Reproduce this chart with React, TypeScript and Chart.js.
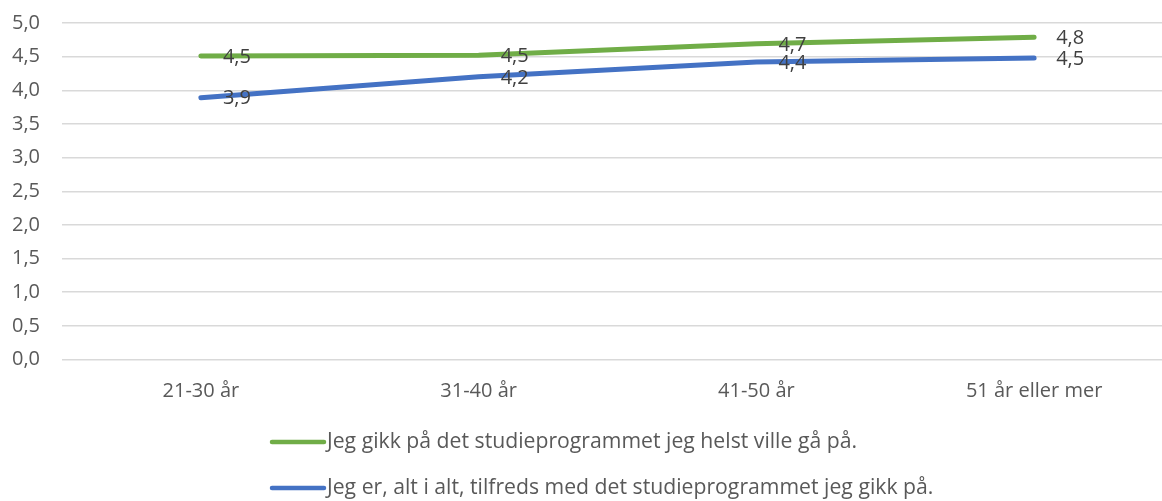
import React, { useEffect, useRef } from "react";
import { Chart, registerables } from "chart.js";

Chart.register(...registerables);

const categories = ["21-30 år", "31-40 år", "41-50 år", "51 år eller mer"];
const seriesNames = [
  "Jeg gikk på det studieprogrammet jeg helst ville gå på.",
  "Jeg er, alt i alt, tilfreds med det studieprogrammet jeg gikk på.",
];
const greenValues = [4.51, 4.52, 4.69, 4.79];
const blueValues = [3.89, 4.2, 4.42, 4.48];
const yTicks = [0, 0.5, 1, 1.5, 2, 2.5, 3, 3.5, 4, 4.5, 5];

const FONT = "'Open Sans', 'Noto Sans', sans-serif";
const fmt = (v: number) => v.toFixed(1).replace(".", ",");

const dataLabelPlugin = {
  id: "dataLabels",
  afterDatasetsDraw(chart: any) {
    const ctx = chart.ctx;
    ctx.save();
    ctx.font = `20px ${FONT}`;
    ctx.fillStyle = "#404040";
    ctx.textAlign = "left";
    ctx.textBaseline = "middle";
    chart.data.datasets.forEach((ds: any, i: number) => {
      const meta = chart.getDatasetMeta(i);
      meta.data.forEach((pt: any, j: number) => {
        ctx.fillText(fmt(ds.data[j]), pt.x + 22, pt.y + 1);
      });
    });
    ctx.restore();
  },
};

const legendPlugin = {
  id: "customLegend",
  afterDraw(chart: any) {
    const ctx = chart.ctx;
    ctx.save();
    chart.data.datasets.forEach((ds: any, i: number) => {
      const y = 442 + i * 46;
      ctx.strokeStyle = ds.borderColor;
      ctx.lineWidth = 4.5;
      ctx.lineCap = "round";
      ctx.beginPath();
      ctx.moveTo(272, y);
      ctx.lineTo(324, y);
      ctx.stroke();
      ctx.fillStyle = "#595959";
      ctx.font = `21px ${FONT}`;
      ctx.textBaseline = "middle";
      ctx.textAlign = "left";
      ctx.save();
      ctx.translate(327, y);
      ctx.scale(1.01, 1);
      ctx.fillText(ds.label, 0, 0);
      ctx.restore();
    });
    ctx.restore();
  },
};

export default function App() {
  const ref = useRef<HTMLCanvasElement>(null);
  useEffect(() => {
    document.body.style.margin = "0";
    const canvas = ref.current!;
    const chart = new Chart(canvas, {
      type: "line",
      data: {
        labels: categories,
        datasets: [
          {
            label: seriesNames[0],
            data: greenValues,
            borderColor: "#70AD47",
            backgroundColor: "#70AD47",
            borderWidth: 5,
            pointRadius: 0,
            tension: 0,
            borderCapStyle: "round",
            borderJoinStyle: "round",
          },
          {
            label: seriesNames[1],
            data: blueValues,
            borderColor: "#4472C4",
            backgroundColor: "#4472C4",
            borderWidth: 5,
            pointRadius: 0,
            tension: 0,
            borderCapStyle: "round",
            borderJoinStyle: "round",
          },
        ],
      },
      options: {
        responsive: false,
        animation: false,
        devicePixelRatio: 1,
        layout: { padding: { top: 23, right: 2, bottom: 91.5, left: 0 } },
        plugins: {
          legend: { display: false },
          tooltip: { enabled: false },
        },
        scales: {
          x: {
            offset: true,
            grid: { display: false },
            border: { display: false },
            ticks: {
              color: "#595959",
              font: { family: FONT, size: 20 },
              padding: 12,
              maxRotation: 0,
            },
            afterFit(scale: any) {
              scale.height = 50;
            },
          },
          y: {
            min: 0,
            max: 5,
            afterBuildTicks(scale: any) {
              scale.ticks = yTicks.map((v) => ({ value: v }));
            },
            grid: { color: "#D9D9D9", lineWidth: 1.5, drawTicks: false },
            border: { display: false },
            ticks: {
              color: "#595959",
              font: { family: FONT, size: 20 },
              padding: 22,
              callback: (v: any) => fmt(Number(v)),
            },
            afterFit(scale: any) {
              scale.width = 62;
              scale.paddingTop = 8;
              scale.paddingBottom = 8;
            },
          },
        },
      },
      plugins: [dataLabelPlugin, legendPlugin],
    });
    return () => chart.destroy();
  }, []);
  return (
    <div style={{ width: 1162, height: 501, overflow: "hidden", background: "#fff" }}>
      <canvas ref={ref} width={1175} height={501} style={{ width: 1175, height: 501, display: "block" }} />
    </div>
  );
}
